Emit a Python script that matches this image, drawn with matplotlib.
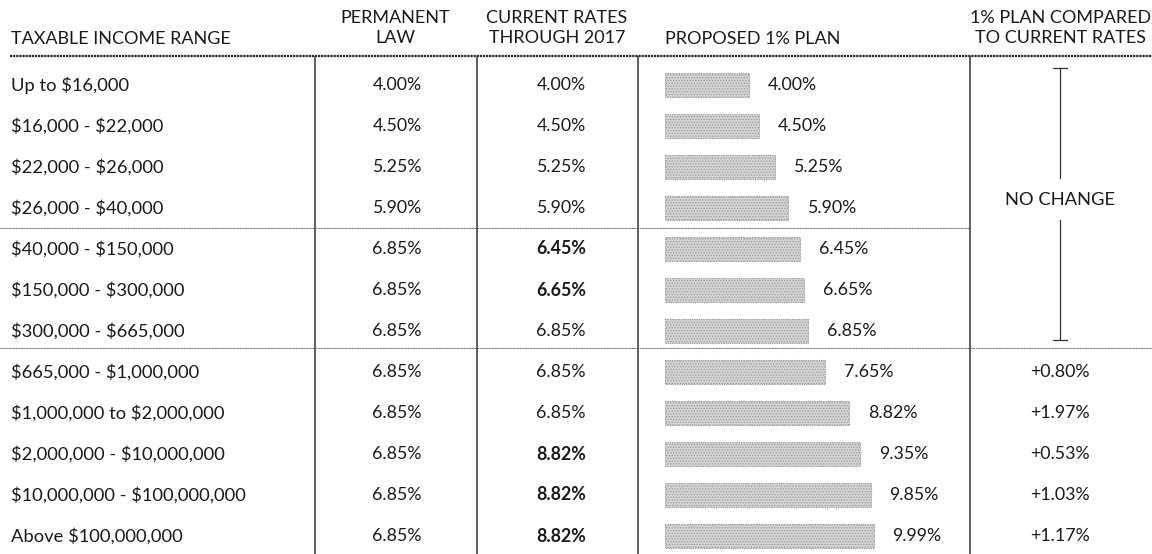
import matplotlib
matplotlib.use("Agg")
import matplotlib.pyplot as plt

plt.rcParams['font.family'] = ['Lato', 'DejaVu Sans']
plt.rcParams['text.parse_math'] = False
plt.rcParams['hatch.color'] = '#b4b4b4'
plt.rcParams['hatch.linewidth'] = 0.6

income_ranges = ["Up to $16,000", "$16,000 - $22,000", "$22,000 - $26,000", "$26,000 - $40,000",
                 "$40,000 - $150,000", "$150,000 - $300,000", "$300,000 - $665,000",
                 "$665,000 - $1,000,000", "$1,000,000 to $2,000,000", "$2,000,000 - $10,000,000",
                 "$10,000,000 - $100,000,000", "Above $100,000,000"]
permanent_law = [4.00, 4.50, 5.25, 5.90, 6.85, 6.85, 6.85, 6.85, 6.85, 6.85, 6.85, 6.85]
current_rates = [4.00, 4.50, 5.25, 5.90, 6.45, 6.65, 6.85, 6.85, 6.85, 8.82, 8.82, 8.82]
current_bold = [False, False, False, False, True, True, False, False, False, True, True, True]
proposed_plan = [4.00, 4.50, 5.25, 5.90, 6.45, 6.65, 6.85, 7.65, 8.82, 9.35, 9.85, 9.99]
compared = ["", "", "", "", "", "", "", "+0.80%", "+1.97%", "+0.53%", "+1.03%", "+1.17%"]
headers = ["TAXABLE INCOME RANGE", "PERMANENT\nLAW", "CURRENT RATES\nTHROUGH 2017",
           "PROPOSED 1% PLAN", "1% PLAN COMPARED\nTO CURRENT RATES"]

W, H = 1152, 554
fig = plt.figure(figsize=(W / 100, H / 100), dpi=100)
ax = fig.add_axes([0, 0, 1, 1])
row0, rstep = 85, 41
ytop = -row0 / rstep
ybot = (H - row0) / rstep
ax.set_xlim(0, W)
ax.set_ylim(ybot, ytop)
ax.axis('off')

def py(p):  # pixel y -> row units
    return (p - row0) / rstep

txt = '#1a1a1a'
fs = 13.2
vfs = 12.8
n = len(income_ranges)

# headers
hfs = 13
ax.text(11, py(39), headers[0], ha='left', va='center', fontsize=hfs, color=txt)
ax.text(395, py(28), headers[1], ha='center', va='center', fontsize=hfs, color=txt, linespacing=1.25)
ax.text(557, py(28), headers[2], ha='center', va='center', fontsize=hfs, color=txt, linespacing=1.25)
ax.text(665, py(39), headers[3], ha='left', va='center', fontsize=hfs, color=txt)
ax.text(1151, py(28), headers[4], ha='right', va='center', fontsize=hfs, color=txt,
        linespacing=1.25, multialignment='center')

# rows
for i in range(n):
    ax.text(11, i, income_ranges[i], ha='left', va='center', fontsize=fs, color=txt)
    ax.text(397, i, f"{permanent_law[i]:.2f}%", ha='center', va='center', fontsize=vfs, color=txt)
    ax.text(561, i, f"{current_rates[i]:.2f}%", ha='center', va='center', fontsize=vfs, color=txt,
            fontweight='bold' if current_bold[i] else 'normal')
    if compared[i]:
        ax.text(1060, i, compared[i], ha='center', va='center', fontsize=vfs, color=txt)

# lines
ax.plot([10, W], [py(56), py(56)], color='#222', lw=1.6, ls=(0, (1, 0.4)))
for x in (315, 477, 638, 970):
    ax.plot([x, x], [py(57), ybot], color='#333', lw=1.1)
ax.plot([0, 970], [py(228), py(228)], color='#555', lw=0.7, ls=(0, (1, 0.6)))
ax.plot([0, W], [py(348), py(348)], color='#555', lw=0.7, ls=(0, (1, 0.6)))

# NO CHANGE bracket
ax.text(1060, py(200), "NO CHANGE", ha='center', va='center', fontsize=13.2, color=txt)
ax.plot([1060, 1060], [py(68), py(178)], color='#333', lw=0.9)
ax.plot([1060, 1060], [py(220), py(340)], color='#333', lw=0.9)
ax.plot([1053, 1067], [py(68), py(68)], color='#333', lw=0.9)
ax.plot([1053, 1067], [py(340), py(340)], color='#333', lw=0.9)

# bars axes
x0 = 665
pxper = 20.9
bx = fig.add_axes([x0 / W, 0, (W - x0) / W, 1])
bx.set_xlim(0, (W - x0) / pxper)
bx.set_ylim(ybot, ytop)
bx.axis('off')
bx.patch.set_alpha(0)
bx.barh(range(n), proposed_plan, height=0.6, color='#d4d4d4', edgecolor='#999999',
        linewidth=0.8, linestyle=(0, (1, 1)), hatch='......')
for i, v in enumerate(proposed_plan):
    bx.annotate(f"{v:.2f}%", (v, i), xytext=(13.5, 0), textcoords='offset points',
                ha='left', va='center', fontsize=vfs, color=txt)

fig.savefig("out.png", dpi=100)
